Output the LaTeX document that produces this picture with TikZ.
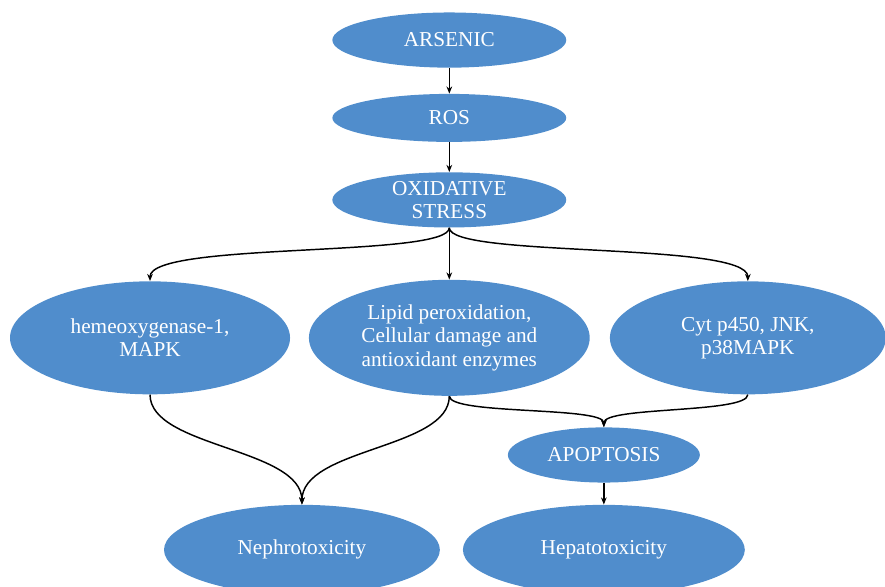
\documentclass[tikz,border=0pt]{standalone}
\usepackage{fontspec}
\setmainfont{Liberation Serif}
\usetikzlibrary{arrows.meta,shapes.geometric}
\definecolor{ovalblue}{RGB}{80,141,204}

\begin{document}
\begin{tikzpicture}[x=1cm,y=1cm]
\tikzset{
  ovalnode/.style={ellipse,fill=ovalblue,text=white,inner sep=0pt,align=center,
    font=\fontsize{16}{17.5}\selectfont},
  directed/.style={-{Stealth[length=1.9mm,width=1.5mm]},line width=1.1pt}
}
\useasboundingbox (0,0) rectangle (23.42,-15.53);
\node[ovalnode,minimum width=6.19cm,minimum height=1.46cm] (n_arsenic) at (11.89,-1.06) {ARSENIC};
\node[ovalnode,minimum width=6.19cm,minimum height=1.27cm] (n_ros) at (11.89,-3.12) {ROS};
\node[ovalnode,minimum width=6.19cm,minimum height=1.46cm] (n_stress) at (11.89,-5.29) {OXIDATIVE\\STRESS};
\node[ovalnode,minimum width=7.41cm,minimum height=2.99cm] (n_heme) at (3.97,-8.94) {hemeoxygenase-1,\\MAPK};
\node[ovalnode,minimum width=7.43cm,minimum height=3.07cm] (n_lipid) at (11.89,-8.94) {Lipid peroxidation,\\Cellular damage and\\antioxidant enzymes};
\node[ovalnode,minimum width=7.30cm,minimum height=2.99cm] (n_cyt) at (19.79,-8.94) {Cyt p450, JNK,\\p38MAPK};
\node[ovalnode,minimum width=5.08cm,minimum height=1.46cm] (n_apop) at (15.98,-12.04) {APOPTOSIS};
\node[ovalnode,minimum width=7.30cm,minimum height=2.38cm] (n_nephro) at (7.99,-14.55) {Nephrotoxicity};
\node[ovalnode,minimum width=7.46cm,minimum height=2.38cm] (n_hepato) at (15.98,-14.55) {Hepatotoxicity};
\draw[directed] (n_arsenic) -- (n_ros);
\draw[directed] (n_ros) -- (n_stress);
\draw[directed] (n_stress.south) -- (n_lipid.north);
\draw[directed] (n_stress.south) .. controls +(0,-0.8) and +(0,1.05) .. (n_heme.north);
\draw[directed] (n_stress.south) .. controls +(0,-0.8) and +(0,1.05) .. (n_cyt.north);
\draw[directed] (n_heme.south) .. controls +(0,-1.4) and +(0,1.5) .. (n_nephro.north);
\draw[directed] (n_lipid.south) .. controls +(0,-1.4) and +(0,1.5) .. (n_nephro.north);
\draw[directed] (n_lipid.south) .. controls +(0,-0.5) and +(0,0.55) .. (n_apop.north);
\draw[directed] (n_cyt.south) .. controls +(0,-0.5) and +(0,0.55) .. (n_apop.north);
\draw[directed] (n_apop) -- (n_hepato);
\end{tikzpicture}
\end{document}
